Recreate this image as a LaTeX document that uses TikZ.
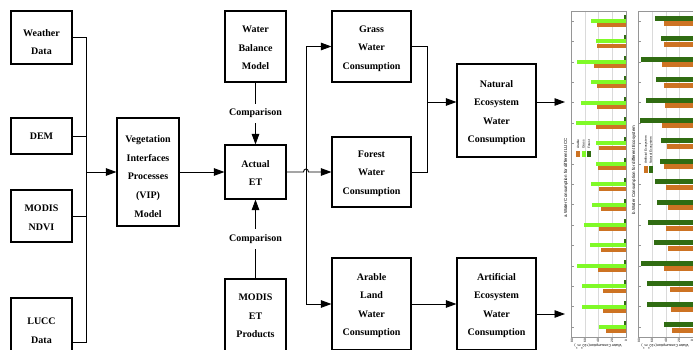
\documentclass[tikz,border=0pt]{standalone}
\usepackage{fontspec}
\setmainfont{Liberation Serif}
\newfontfamily\chartfont{Liberation Sans}
\usetikzlibrary{arrows.meta}
\definecolor{grc}{RGB}{128,250,40}
\definecolor{orc}{RGB}{205,115,35}
\definecolor{dgc}{RGB}{48,108,18}
\definecolor{gridc}{RGB}{218,218,218}
\definecolor{framec}{RGB}{150,150,150}
\newcommand\ld[2][1.5pt]{\raisebox{-#1}[\height][\depth]{#2}}
\begin{document}
\begin{tikzpicture}[x=1pt,y=-1pt,
  box/.style={draw, line width=1.1pt, inner sep=0pt, align=center, font=\bfseries\fontsize{10}{18.6}\selectfont},
  ln/.style={line width=0.9pt},
  arr/.style={line width=0.9pt, -{Triangle[length=10.5pt,width=7.5pt]}},
  lab/.style={fill=white, inner xsep=1pt, inner ysep=5pt, font=\bfseries\fontsize{10}{12}\selectfont},
  ctitle/.style={rotate=90, inner sep=0pt, font=\chartfont\fontsize{4.4}{5}\selectfont},
  ctick/.style={rotate=90, inner sep=0pt, font=\chartfont\fontsize{3.2}{4}\selectfont},
  cleg/.style={rotate=90, anchor=west, inner sep=0pt, font=\chartfont\fontsize{3.2}{4}\selectfont},
  caxis/.style={rotate=180, inner sep=0pt, font=\chartfont\fontsize{3.6}{4}\selectfont},
  cframe/.style={draw=framec, line width=0.5pt},
  cgrid/.style={draw=gridc, line width=0.4pt}]
\useasboundingbox (0,0) rectangle (693,350);
\clip (0,0) rectangle (693,350);
\fill[white] (0,0) rectangle (693,350);

% ---------- boxes ----------
\node[box, minimum width=61pt, minimum height=53pt] (weather) at (41.5,37.5) {\ld[4.5pt]{Weather}\\\ld[4.5pt]{Data}};
\node[box, minimum width=61pt, minimum height=36pt] (dem) at (41.5,136) {DEM};
\node[box, minimum width=61pt, minimum height=52pt] (ndvi) at (41.5,216) {\ld{MODIS}\\\ld{NDVI}};
\node[box, minimum width=61pt, minimum height=66pt] (lucc) at (41.5,331) {LUCC\\Data};
\node[box, minimum width=62pt, minimum height=108pt] (vip) at (148,172) {\ld[4.5pt]{Vegetation}\\\ld[4.5pt]{Interfaces}\\\ld[4.5pt]{Processes}\\\ld[4.5pt]{(VIP)}\\\ld[4.5pt]{Model}};
\node[box, minimum width=61pt, minimum height=71pt] (wbm) at (255.5,46.5) {\ld{Water}\\\ld{Balance}\\\ld{Model}};
\node[box, minimum width=61pt, minimum height=54pt] (aet) at (255.5,172) {\ld[1pt]{Actual}\\\ld[1pt]{ET}};
\node[box, minimum width=61pt, minimum height=74pt] (modiset) at (255.5,316) {MODIS\\ET\\Products};
\node[box, minimum width=79pt, minimum height=71pt] (grass) at (371.5,46.5) {\ld[2pt]{Grass}\\\ld[2pt]{Water}\\\ld[2pt]{Consumption}};
\node[box, minimum width=79pt, minimum height=70pt] (forest) at (371.5,172) {\ld{Forest}\\\ld{Water}\\\ld{Consumption}};
\node[box, minimum width=79pt, minimum height=92pt] (arable) at (371.5,304) {\ld{Arable}\\\ld{Land}\\\ld{Water}\\\ld{Consumption}};
\node[box, minimum width=79pt, minimum height=93pt] (natural) at (496.5,110.5) {\ld[2pt]{Natural}\\\ld[2pt]{Ecosystem}\\\ld[2pt]{Water}\\\ld[2pt]{Consumption}};
\node[box, minimum width=79pt, minimum height=92pt] (artificial) at (496.5,304) {\ld{Artificial}\\\ld{Ecosystem}\\\ld{Water}\\\ld{Consumption}};

% ---------- connectors ----------
\coordinate (bj) at (86,172);
\coordinate (lc) at (72,342);
\draw[ln] (weather.east) -| (bj);
\draw[ln] (dem.east) -| (bj);
\draw[ln] (ndvi.east) -| (bj);
\draw[ln] (lc) -| (bj);
\draw[arr] (bj) -- (vip.west);
\draw[arr] (vip.east) -- (aet.west);
\draw[arr] (wbm.south) -- node[lab]{Comparison} (aet.north);
\draw[arr] (modiset.north) -- node[lab]{Comparison} (aet.south);

\coordinate (vt) at (306,46.5);
\coordinate (vb) at (306,304);
\coordinate (h1) at (303.5,172);
\coordinate (h2) at (308.5,172);
\draw[ln] (vt) -- (vb);
\draw[arr] (vt) -- (grass.west);
\draw[arr] (vb) -- (arable.west);
\draw[arr] (aet.east) -- (h1) .. controls (303.5,168) and (308.5,168) .. (h2) -- (forest.west);

\coordinate (nj) at (427,102);
\draw[ln] (grass.east) -| (nj);
\draw[ln] (forest.east) -| (nj);
\draw[arr] (nj) -- (natural.west |- nj);
\draw[arr] (arable.east) -- (artificial.west);
\coordinate (ca) at (565,102);
\coordinate (cb) at (565,314);
\draw[arr] (natural.east |- ca) -- (ca);
\draw[arr] (artificial.east |- cb) -- (cb);

% ---------- chart a ----------
\foreach \x in {585,598,612} {\path[cgrid] (\x,11) -- (\x,337);}
\path[cframe] (571,11) rectangle (626,337);
\foreach \t in {21,41.4,61.8,82.2,102.6,123,143.4,163.8,184.2,204.6,225,245.4,265.8,286.2,306.6,327}
  {\path[cframe] (571,\t) -- (574,\t);}
\foreach \t/\g/\o in {21/591/597,41.4/596/597,61.8/577/594,82.2/591/597,102.6/581/597,123/576/596,143.4/596/599,163.8/596/598,184.2/591/599,204.6/592/601,225/584/599,245.4/590/601,265.8/577/598,286.2/582/603,306.6/582/603,327/599/606}{
  \fill[dgc] (623.5,{\t-6}) rectangle (626,{\t-2});
  \fill[grc] (\g,{\t-2}) rectangle (626,{\t+2});
  \fill[orc] (\o,{\t+2.3}) rectangle (626,{\t+6.3});
}
\node[ctitle] (ta) at (566,178) {a.Water Consumption for different LUCC};
\fill[orc] (576,151) rectangle (580,157);
\fill[grc] (581.5,151) rectangle (585.5,157);
\fill[dgc] (587,151) rectangle (591,157);
\node[cleg] (la1) at (578,149) {Arable};
\node[cleg] (la2) at (583.5,149) {Grass};
\node[cleg] (la3) at (589,149) {Forest};
\foreach \x/\v in {572/80,585/60,598/40,612/20,626/0}{\node[ctick] at (\x,340.5) {\v};}
\node[caxis] (xa) at (598,346.5) {Water Consumption(×10\textsuperscript{8}m\textsuperscript{3})};

% ---------- chart b ----------
\foreach \x in {652,666,679} {\path[cgrid] (\x,11) -- (\x,337);}
\path[cframe] (638,11) rectangle (700,337);
\foreach \t in {21,41.4,61.8,82.2,102.6,123,143.4,163.8,184.2,204.6,225,245.4,265.8,286.2,306.6,327}
  {\path[cframe] (638,\t) -- (641,\t);}
\foreach \t/\d/\o in {21/655/664,41.4/661/664,61.8/641/662,82.2/656/664,102.6/646/665,123/640/662,143.4/661/667,163.8/660/664,184.2/655/666,204.6/657/668,225/648/666,245.4/654/668,265.8/641/664,286.2/647/670,306.6/647/671,327/664/672}{
  \fill[dgc] (\d,{\t-5}) rectangle (700,{\t});
  \fill[orc] (\o,{\t+0.5}) rectangle (700,{\t+5.5});
}
\node[ctitle] (tb) at (634,170) {b.Water Consumption for different Ecosystem};
\fill[orc] (644,166) rectangle (648,173);
\fill[dgc] (649,166) rectangle (653,173);
\node[cleg] (lb1) at (646,164) {Artificial Ecosystem};
\node[cleg] (lb2) at (651,164) {Natural Ecosystem};
\foreach \x/\v in {639/80,652/60,666/40,679/20,692/0}{\node[ctick] at (\x,340.5) {\v};}
\node[caxis] (xb) at (665,346.5) {Water Consumption(×10\textsuperscript{8}m\textsuperscript{3})};
\end{tikzpicture}
\end{document}
